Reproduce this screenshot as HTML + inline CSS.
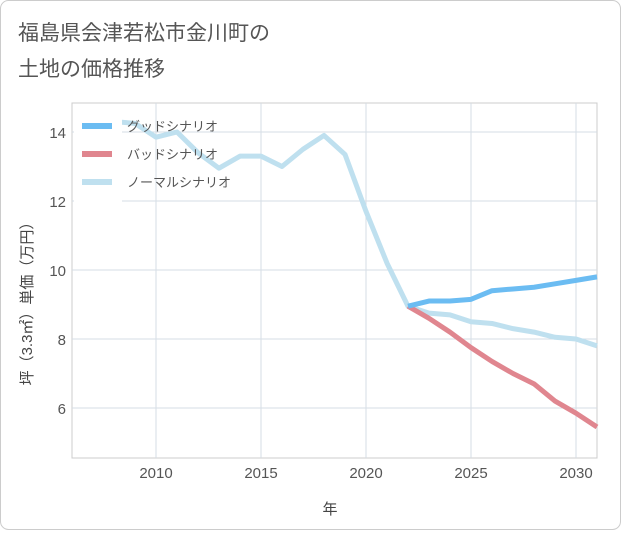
<!DOCTYPE html>
<html><head><meta charset="utf-8"><style>
body{margin:0;background:#fff;font-family:"Liberation Sans","Noto Sans CJK JP",sans-serif;}
#wrap{position:relative;width:621px;height:530px;}
</style></head><body>
<div id="wrap">
<svg id="c" width="621" height="530" xmlns="http://www.w3.org/2000/svg">
<rect x="0.5" y="0.5" width="620" height="529" rx="8" fill="#fff" stroke="#ccc"/>
<text x="18" y="40" font-size="21" fill="#555">福島県会津若松市金川町の</text>
<text x="18" y="76" font-size="21" fill="#555">土地の価格推移</text>
<g id="grid"></g>
<g id="lines"></g>
<g id="legend"></g>
<text x="330" y="514" font-size="15" fill="#444" text-anchor="middle">年</text>
<text transform="translate(32,300) rotate(-90)" font-size="15" fill="#444" text-anchor="middle">坪（3.3㎡）単価（万円）</text>
</svg>
</div>
<script>
const years=[2008,2009,2010,2011,2012,2013,2014,2015,2016,2017,2018,2019,2020,2021,2022,2023,2024,2025,2026,2027,2028,2029,2030,2031];
const normal=[14.3,14.25,13.85,14.0,13.4,12.95,13.3,13.3,13.0,13.5,13.9,13.35,11.7,10.2,8.95,8.75,8.7,8.5,8.45,8.3,8.2,8.05,8.0,7.8];
const futureYears=[2022,2023,2024,2025,2026,2027,2028,2029,2030,2031];
const good=[8.95,9.1,9.1,9.15,9.4,9.45,9.5,9.6,9.7,9.8];
const bad=[8.95,8.6,8.2,7.75,7.35,7.0,6.7,6.2,5.85,5.45];
const xTicks=[2010,2015,2020,2025,2030];
const yTicks=[6,8,10,12,14];
const X0=72,X1=597,Y0=103,Y1=458;
const xs=y=>X0+(y-2006)*21;
const ys=v=>270-(v-10)*34.5;
const NS="http://www.w3.org/2000/svg";
function mk(t,a,p){const e=document.createElementNS(NS,t);for(const k in a)e.setAttribute(k,a[k]);p.appendChild(e);return e;}
const g=document.getElementById('grid');
const bg=mk('rect',{x:X0,y:Y0,width:X1-X0,height:Y1-Y0,fill:'#fff',stroke:'#ccc'},g);


xTicks.forEach(t=>{
 const l=mk('line',{x1:xs(t),x2:xs(t),y1:Y0,y2:Y1,stroke:'#d5dde5'},g);
 
 
 const tx=mk('text',{x:xs(t),y:478,'font-size':15,fill:'#555','text-anchor':'middle'},g);
 tx.textContent=t;
 
 
});
yTicks.forEach(t=>{
 const l=mk('line',{x1:X0,x2:X1,y1:ys(t),y2:ys(t),stroke:'#d5dde5'},g);
 
 
 const tx=mk('text',{x:66,y:ys(t)+6,'font-size':15,fill:'#555','text-anchor':'end'},g);
 tx.textContent=t;
 
 
});
const L=document.getElementById('lines');
function line(xa,va,col,name){
 const p=mk('polyline',{points:xa.map((y,i)=>xs(y)+','+ys(va[i])).join(' '),fill:'none',stroke:col,'stroke-width':5,'stroke-linejoin':'round'},L);
 
 
}
line(years,normal,'#bfe0ef','normal-scenario-line');
line(futureYears,bad,'#e0868f','bad-scenario-line');
line(futureYears,good,'#6bbcf2','good-scenario-line');
const lg=document.getElementById('legend');
const lb=mk('rect',{x:74,y:105,width:48,height:98,fill:'#fff'},lg);


[['グッドシナリオ','#6bbcf2'],['バッドシナリオ','#e0868f'],['ノーマルシナリオ','#bfe0ef']].forEach((d,i)=>{
 const y=126+i*28;
 const r=mk('rect',{x:82,y:y-3,width:30,height:6,fill:d[1]},lg);
 
 
 const t=mk('text',{x:127,y:y+5,'font-size':13,fill:'#555'},lg);
 t.textContent=d[0];
 
 
});
</script>
</body></html>
